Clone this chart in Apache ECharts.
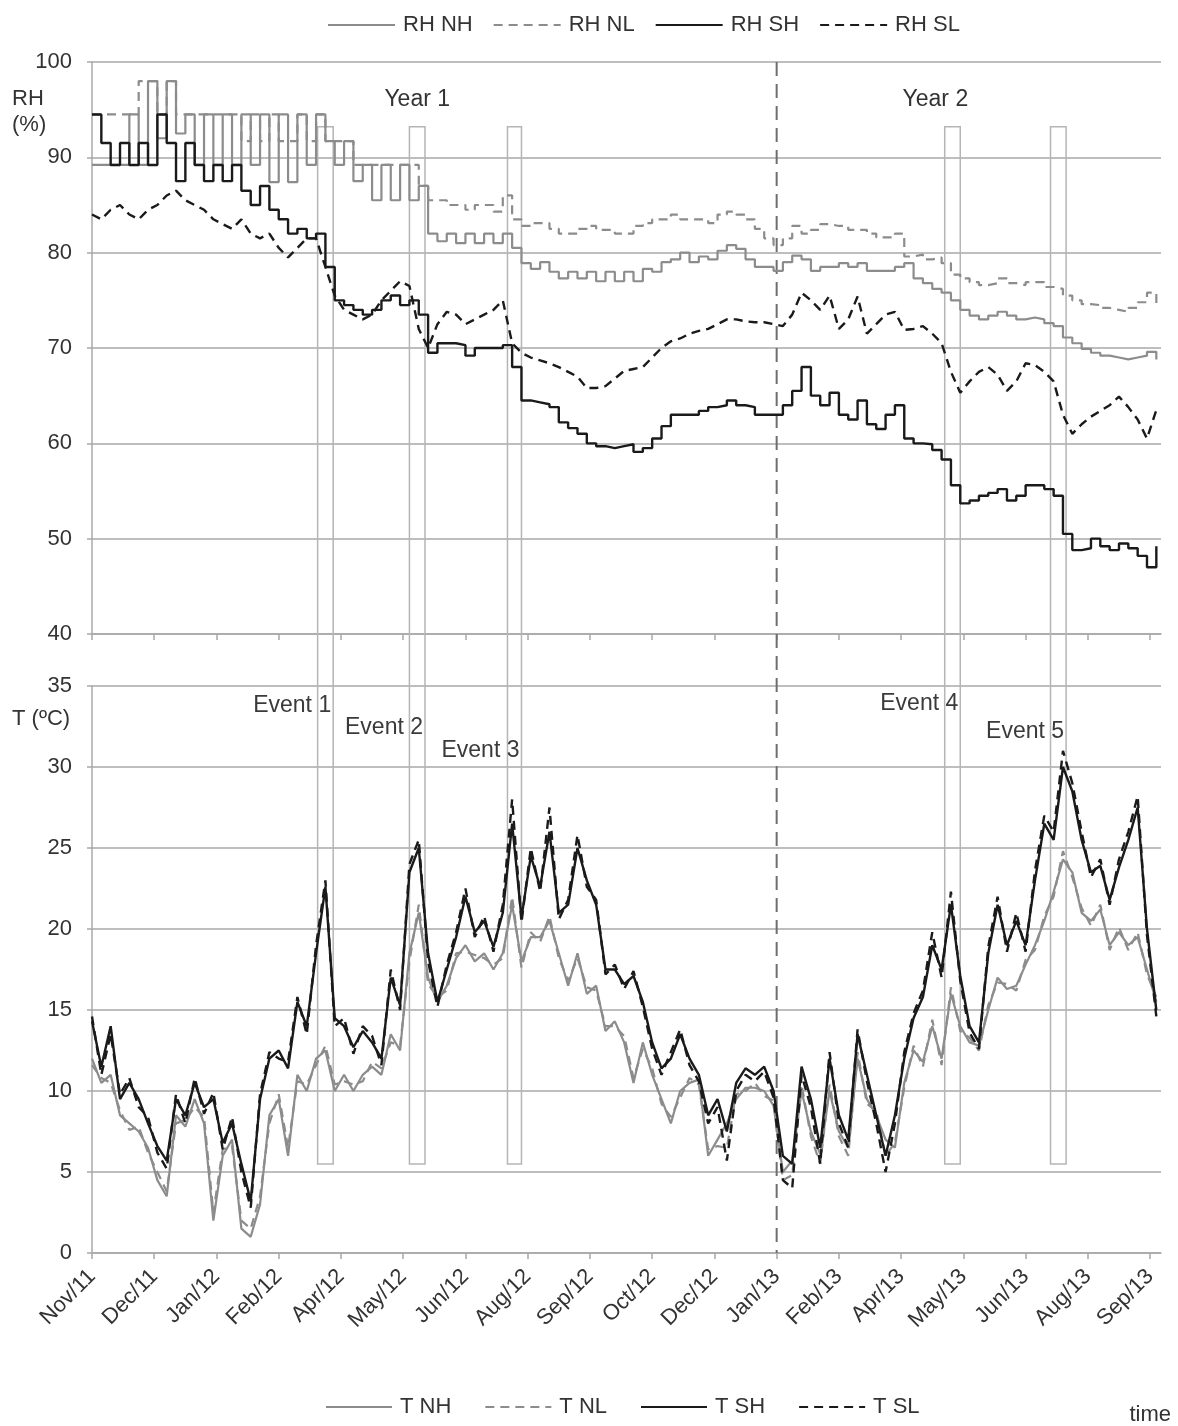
<!DOCTYPE html>
<html><head><meta charset="utf-8">
<script src="https://cdn.jsdelivr.net/npm/echarts@6/dist/echarts.min.js"></script>
<style>html,body{margin:0;padding:0;background:#fff}#c{width:1178px;height:1426px}</style>
</head><body><div id="c"></div>
<script>
// ---- data (days since 1 Nov 2011, sampled every 6 days) ----
const days = [0,6,12,18,24,30,36,42,48,54,60,66,72,78,84,90,96,102,108,114,120,126,132,138,144,150,156,162,168,174,180,186,192,198,204,210,216,222,228,234,240,246,252,258,264,270,276,282,288,294,300,306,312,318,324,330,336,342,348,354,360,366,372,378,384,390,396,402,408,414,420,426,432,438,444,450,456,462,468,474,480,486,492,498,504,510,516,522,528,534,540,546,552,558,564,570,576,582,588,594,600,606,612,618,624,630,636,642,648,654,660,666,672,678,684];

const tickDays = [0,40,80,120,160,200,240,280,320,360,400,440,480,520,560,600,640,680];
const tickLabels = ['Nov/11','Dec/11','Jan/12','Feb/12','Apr/12','May/12','Jun/12','Aug/12','Sep/12','Oct/12','Dec/12','Jan/13','Feb/13','Apr/13','May/13','Jun/13','Aug/13','Sep/13'];

const rhNH = [89.2,89.2,89.2,89.2,94.5,89.2,98.0,92.0,98.0,92.5,94.5,89.2,94.5,89.2,94.5,89.2,94.5,89.2,94.5,87.4,94.5,87.4,94.5,89.2,94.5,91.7,89.2,91.7,87.5,89.2,85.5,89.2,85.5,89.2,85.5,87.0,82.0,81.2,82.0,81.0,82.0,81.0,82.0,81.0,82.0,80.5,78.9,78.3,79.0,78.0,77.3,78.0,77.3,78.0,77.0,78.0,77.0,78.0,77.0,78.3,78.0,79.0,79.3,80.0,79.0,79.6,79.3,80.2,80.8,80.4,79.3,78.5,78.5,78.1,79.0,79.7,79.3,78.1,78.5,78.5,78.9,78.5,78.9,78.1,78.1,78.1,78.5,78.9,77.3,76.8,76.2,75.8,75.0,74.0,73.4,73.0,73.4,73.8,73.4,73.0,73.2,73.0,72.6,72.3,71.1,70.5,69.9,69.5,69.2,69.0,68.8,69.0,69.2,69.6,68.8];
const rhNL = [94.5,94.5,94.5,94.5,94.5,98.0,98.0,94.5,98.0,94.5,94.5,94.5,94.5,94.5,94.5,94.5,91.7,94.5,91.7,94.5,91.7,91.7,94.5,91.7,94.5,91.7,91.7,91.7,89.2,89.2,89.2,89.2,89.2,89.2,89.2,87.0,85.5,85.5,85.0,85.0,84.5,85.0,85.0,84.3,86.0,83.5,82.8,83.1,83.1,82.5,82.0,82.0,82.5,82.8,82.4,82.4,82.0,82.0,82.8,83.1,83.5,83.5,84.0,83.5,83.5,83.5,83.1,84.0,84.3,84.0,83.5,82.5,81.5,80.8,81.5,82.8,82.0,82.4,83.0,82.8,82.8,82.4,82.4,82.0,81.6,81.6,82.0,79.6,79.8,79.3,79.5,78.9,77.7,77.3,76.9,76.6,76.8,77.3,76.8,76.6,76.9,76.9,76.4,76.2,75.5,75.0,74.6,74.5,74.2,74.0,73.8,74.2,74.8,75.8,74.6];
const rhSH = [94.5,91.5,89.2,91.5,89.2,91.5,89.2,94.5,91.5,87.5,91.5,89.2,87.5,89.2,87.5,89.2,86.5,85.0,87.0,84.5,83.5,82.0,82.5,81.5,82.0,78.5,75.0,74.5,74.0,73.5,74.0,75.0,75.5,74.5,75.0,73.5,69.5,70.5,70.5,70.3,69.2,70.0,70.0,70.0,70.3,68.0,64.5,64.3,64.1,63.8,62.2,61.6,61.0,60.0,59.7,59.5,59.7,59.9,59.1,59.5,60.5,61.8,63.0,63.0,63.0,63.4,63.8,64.0,64.5,64.0,63.8,63.0,63.0,63.0,64.0,65.5,68.0,65.0,64.0,65.3,63.0,62.5,64.5,62.0,61.5,63.0,64.0,60.5,60.0,59.9,59.3,58.3,55.6,53.7,54.0,54.5,54.8,55.2,54.0,54.5,55.6,55.6,55.2,54.5,50.5,48.8,49.0,50.0,49.2,48.8,49.5,49.0,48.2,47.0,49.2];
const rhSL = [84.0,83.5,84.5,85.0,84.0,83.5,84.5,85.0,86.0,86.5,85.5,85.0,84.5,83.5,83.0,82.5,83.5,82.0,81.5,82.0,80.5,79.5,80.5,81.5,81.5,78.5,75.5,74.0,73.5,73.0,73.5,75.0,76.0,77.0,76.5,72.0,70.0,72.5,73.8,73.5,72.5,73.0,73.5,74.0,75.0,70.5,69.5,69.0,68.7,68.4,68.0,67.5,67.0,65.8,65.8,66.0,66.8,67.6,67.8,68.0,69.0,70.0,70.7,71.0,71.5,71.8,72.0,72.5,73.0,73.0,72.8,72.7,72.7,72.5,72.3,73.5,75.8,75.0,74.0,75.5,72.0,73.0,75.4,71.5,72.5,73.5,73.8,71.9,72.0,72.3,71.5,70.5,67.5,65.3,66.5,67.5,68.0,67.2,65.5,66.5,68.4,68.2,67.5,66.5,63.0,61.0,62.0,62.8,63.4,64.0,64.9,63.8,62.5,60.5,63.5];

const tNH = [12.0,10.5,11.0,8.5,8.0,7.5,6.5,4.5,3.5,8.5,7.8,9.5,8.0,2.0,6.0,7.0,1.5,1.0,3.0,8.5,9.5,6.0,11.0,10.0,12.0,12.5,10.0,11.0,10.0,11.0,11.5,11.0,13.5,12.5,18.5,21.0,17.0,15.5,16.5,18.2,19.0,18.0,18.5,17.5,18.5,21.5,18.0,19.5,19.5,20.5,18.5,16.5,18.5,16.0,16.5,13.7,14.3,13.0,10.5,13.0,11.0,9.5,8.0,10.0,10.5,10.7,6.0,7.0,8.0,9.5,10.2,10.2,10.0,9.1,5.0,5.7,10.0,7.5,6.1,10.0,7.5,6.5,12.0,9.5,8.5,7.0,6.5,10.5,12.5,11.8,14.0,12.0,16.0,14.0,13.0,12.8,15.0,17.0,16.3,16.5,17.8,19.0,20.5,22.3,24.3,23.5,21.0,20.5,21.2,19.0,19.8,19.0,19.5,17.5,15.5];
const tNL = [11.6,10.8,10.5,8.8,7.6,7.8,6.2,5.0,3.8,8.0,8.2,9.0,8.4,2.5,6.4,6.6,2.0,1.5,3.5,8.0,9.8,6.5,10.6,10.4,11.6,12.8,10.4,10.6,10.4,10.6,11.8,11.4,13.0,12.8,18.0,21.5,16.6,15.8,16.2,18.5,18.6,18.4,18.2,17.8,18.2,22.0,17.6,19.8,19.2,20.8,18.2,16.8,18.2,16.4,16.2,14.0,14.0,13.4,10.8,12.6,11.4,9.2,8.4,9.6,10.8,10.4,6.4,6.6,6.5,9.8,10.0,10.5,9.7,9.4,4.5,4.8,10.4,7.2,5.5,10.4,7.2,6.0,12.4,9.2,8.8,6.0,6.8,10.2,12.8,11.5,14.4,11.6,16.4,13.7,13.3,12.5,15.3,16.7,16.6,16.2,18.1,18.7,20.8,22.0,24.8,23.2,21.3,20.2,21.5,18.7,20.1,18.7,19.8,17.2,15.8];
const tSH = [14.3,11.5,14.0,9.5,10.5,9.5,8.0,6.6,5.7,9.5,8.5,10.5,9.0,9.5,6.8,8.0,5.5,3.2,9.5,12.0,12.5,11.4,15.5,14.0,18.5,22.6,14.5,14.0,12.7,13.7,13.0,12.0,17.0,15.3,23.5,25.0,18.5,15.5,17.5,19.5,22.0,19.8,20.5,18.9,21.0,26.5,20.7,24.5,22.6,26.0,21.0,21.5,25.0,23.0,21.5,17.5,17.5,16.6,17.1,15.5,13.0,11.4,12.0,13.5,12.0,11.0,8.5,9.5,7.5,10.5,11.4,11.0,11.5,10.0,6.0,5.5,11.5,9.5,6.5,12.0,8.5,7.0,13.5,11.0,8.5,6.0,8.5,12.0,14.5,15.8,19.0,17.5,21.5,17.1,14.0,13.0,18.5,21.5,19.0,20.5,19.0,23.0,26.5,25.5,30.0,28.5,25.5,23.5,23.9,21.8,23.8,25.5,27.5,20.0,15.0];
const tSL = [14.6,11.0,13.5,9.8,10.8,9.0,8.4,6.2,5.2,9.8,8.0,10.8,8.6,9.9,6.4,8.4,5.0,2.8,9.8,12.4,12.0,11.8,15.8,13.5,19.0,23.0,14.0,14.5,12.3,14.0,13.4,11.6,17.5,15.0,24.0,25.5,18.0,15.2,17.8,19.8,22.5,19.5,20.8,18.6,21.5,28.0,20.4,25.0,22.3,27.5,20.6,21.8,25.8,22.6,21.8,17.2,17.8,16.3,17.4,15.2,12.6,11.0,12.4,13.8,11.6,10.6,8.0,9.0,5.7,10.0,11.0,10.6,11.2,9.6,4.5,4.0,11.0,9.0,5.5,12.4,8.0,6.5,13.8,10.6,8.0,5.0,8.0,12.4,14.8,16.2,19.8,17.0,22.3,16.8,13.6,12.6,18.9,22.0,18.6,21.0,18.6,23.6,27.0,26.0,31.0,29.0,26.0,23.2,24.3,21.5,24.3,26.0,28.2,19.6,14.6];

// annotations
const eventNames = ['Event 1','Event 2','Event 3','Event 4','Event 5'];
const eventStart = [145,204,267,548,616];
const eventEnd = [155,214,276,558,626];
const eventLabelT = [33.8,32.45,31.0,33.9,32.2];
const eventTopRH = 93.2;
const eventBottomT = 5.5;
const yearNames = ['Year 1','Year 2'];
const yearLabelDay = [209,542];
const yearLabelRH = 96;
const yearSplitDay = 440;

// ---- chart ----
const FONT = '"Liberation Sans", Arial, sans-serif';
const TXT = '#333';
const GRID_C = '#a8a8a8';
const GRAY = '#8c8c8c';
const BLACK = '#1a1a1a';

function pairs(arr){ return days.map((d,i)=>[d, arr[i]]); }

const xAxisBase = (gi, labels) => ({
  type:'value', gridIndex:gi, min:0, max:687,
  axisLine:{show:true, lineStyle:{color:GRID_C, width:1.5}},
  axisTick:{show:true, length:6, lineStyle:{color:GRID_C, width:1.5}, customValues: tickDays},
  axisLabel:{show:labels, customValues: tickDays, rotate:45, margin:20, fontSize:22, fontFamily:FONT, color:TXT,
    formatter:(v)=>{const k=tickDays.indexOf(Math.round(v)); return k>=0?tickLabels[k]:'';}},
  splitLine:{show:false}
});
const yAxisBase = (gi, min, max, interval) => ({
  type:'value', gridIndex:gi, min, max, interval,
  axisLine:{show:true, lineStyle:{color:GRID_C, width:1.5}},
  axisTick:{show:true, length:5, lineStyle:{color:GRID_C, width:1.5}},
  axisLabel:{margin:20, fontSize:22, fontFamily:FONT, color:TXT},
  splitLine:{show:true, lineStyle:{color:GRID_C, width:1.5}}
});

function mk(name, arr, gi, color, dashed, step, w){
  return {name, type:'line', xAxisIndex:gi, yAxisIndex:gi, data:pairs(arr), symbol:'none', step: step||false,
    lineStyle:{color, width:w||2, type: dashed?[9,6]:'solid'}, itemStyle:{color}, emphasis:{disabled:true}};
}

const legendCommon = {itemHeight:14, itemStyle:{opacity:0},
  textStyle:{fontSize:22, fontFamily:FONT, color:TXT, padding:[0,0,0,3]}};

const option = {
  animation:false,
  backgroundColor:'#fff',
  textStyle:{fontFamily:FONT},
  grid:[{left:92, right:17, top:62, height:572},{left:92, right:17, top:686, height:567}],
  xAxis:[xAxisBase(0,false), xAxisBase(1,true)],
  yAxis:[yAxisBase(0,40,100,10), yAxisBase(1,0,35,5)],
  legend:[
    Object.assign({data:['RH NH','RH NL','RH SH','RH SL'], left:322, top:9, itemWidth:67, itemGap:20}, legendCommon),
    Object.assign({data:['T NH','T NL','T SH','T SL'], left:320, top:1391, itemWidth:66, itemGap:33}, legendCommon)
  ],
  series:[
    mk('RH NH', rhNH, 0, GRAY, false, 'end', 2.2),
    mk('RH NL', rhNL, 0, GRAY, true, 'end', 2.2),
    mk('RH SH', rhSH, 0, BLACK, false, 'end', 2.4),
    mk('RH SL', rhSL, 0, BLACK, true, false, 2.4),
    mk('T NH', tNH, 1, GRAY, false, false, 2.2),
    mk('T NL', tNL, 1, GRAY, true, false, 2.2),
    mk('T SH', tSH, 1, BLACK, false, false, 2.4),
    mk('T SL', tSL, 1, BLACK, true, false, 2.4)
  ]
};

const chart = echarts.init(document.getElementById('c'));
chart.setOption(option);

function overlay(){
  const px = d => chart.convertToPixel({xAxisIndex:0}, d);
  const pyRH = v => chart.convertToPixel({yAxisIndex:0}, v);
  const pyT = v => chart.convertToPixel({yAxisIndex:1}, v);
  const g = [];
  const yTop = pyRH(eventTopRH), yBot = pyT(eventBottomT);
  eventNames.forEach((n,i)=>{
    const x0 = px(eventStart[i]), x1 = px(eventEnd[i]);
    g.push({type:'rect', z:1, silent:true, shape:{x:x0, y:yTop, width:x1-x0, height:yBot-yTop},
      style:{fill:'none', stroke:'#b5b5b5', lineWidth:1.5}});
    g.push({type:'text', z:10, silent:true, x:x1-2, y:pyT(eventLabelT[i]),
      style:{text:n, fill:'#3a3a3a', font:'23px '+FONT, textAlign:'right', textVerticalAlign:'middle'}});
  });
  const xs = px(yearSplitDay);
  g.push({type:'line', z:1, silent:true, shape:{x1:xs, y1:pyRH(100), x2:xs, y2:pyT(0)},
    style:{stroke:'#6e6e6e', lineWidth:2, lineDash:[14,8]}});
  yearNames.forEach((n,i)=>{
    g.push({type:'text', z:10, silent:true, x:px(yearLabelDay[i]), y:pyRH(yearLabelRH),
      style:{text:n, fill:'#333', font:'23px '+FONT, textAlign:'center', textVerticalAlign:'middle'}});
  });
  g.push({type:'text', silent:true, x:12, y:88, style:{text:'RH', fill:TXT, font:'22px '+FONT, textVerticalAlign:'top'}});
  g.push({type:'text', silent:true, x:12, y:114, style:{text:'(%)', fill:TXT, font:'22px '+FONT, textVerticalAlign:'top'}});
  g.push({type:'text', silent:true, x:12, y:708, style:{text:'T (ºC)', fill:TXT, font:'22px '+FONT, textVerticalAlign:'top'}});
  g.push({type:'text', silent:true, x:1171, y:1415, style:{text:'time', fill:TXT, font:'22px '+FONT, textAlign:'right', textVerticalAlign:'middle'}});
  chart.setOption({graphic:g});
}
overlay();
</script>
</body></html>
